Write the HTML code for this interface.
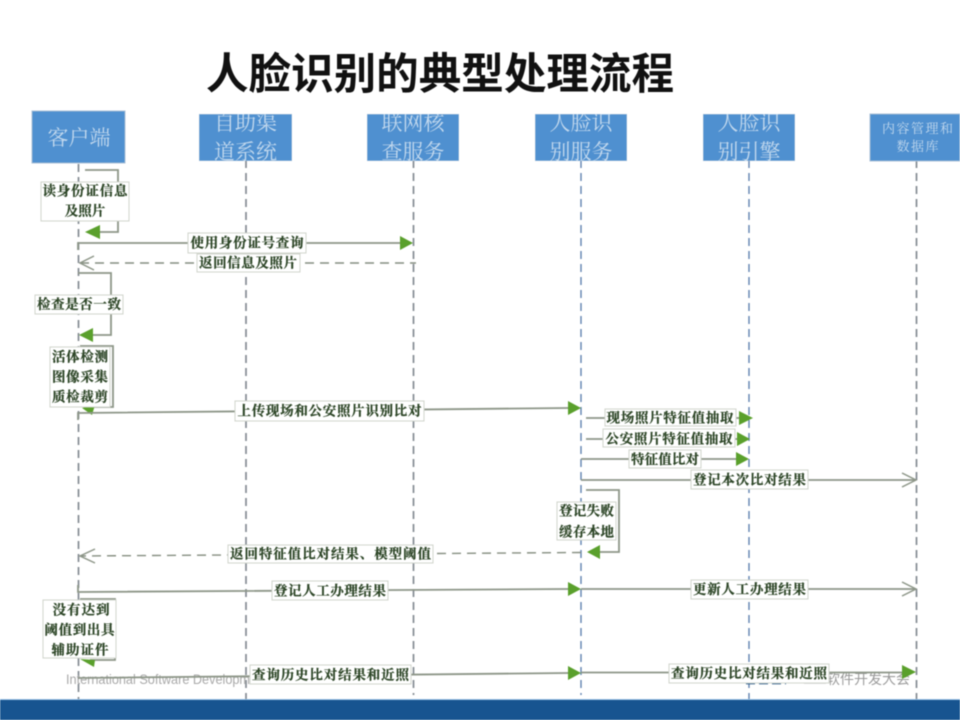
<!DOCTYPE html>
<html lang="zh">
<head>
<meta charset="utf-8">
<title>人脸识别的典型处理流程</title>
<style>
html,body{margin:0;padding:0;background:#fff;width:960px;height:720px;overflow:hidden}
svg{display:block;filter:blur(.6px)}
svg svg{filter:none}
.hd{font-family:"Liberation Serif","Noto Serif CJK SC",serif;fill:#c3d9ee;text-anchor:middle}
.lb{font-family:"Liberation Serif","Noto Serif CJK SC",serif;font-weight:700;font-size:13.5px;fill:#2c4526;stroke:#2c4526;stroke-width:.25;text-anchor:middle;dominant-baseline:central}
.r{fill:#fff;stroke:#d0d4cc;stroke-width:1}
.l{fill:none;stroke:#8d9688;stroke-width:1.8}
.d{fill:none;stroke:#858e80;stroke-width:1.4;stroke-dasharray:9 6}
.o{fill:none;stroke:#8d9688;stroke-width:1.5}
.a{fill:#5aa02c}
.ll{stroke:#848b92;stroke-width:1.7;stroke-dasharray:8 5}
.llb{stroke:#5f82b0;stroke-width:1.4;stroke-dasharray:8 5}
</style>
</head>
<body>
<svg width="960" height="720" viewBox="0 0 960 720" xmlns="http://www.w3.org/2000/svg">
<rect width="960" height="720" fill="#fff"/>

<text x="440" y="89" font-family="'Liberation Sans','Noto Sans CJK SC',sans-serif" font-weight="700" font-size="43" fill="#111" text-anchor="middle" textLength="468" lengthAdjust="spacingAndGlyphs">人脸识别的典型处理流程</text>

<!-- lifelines -->
<line class="ll" x1="78.500" y1="164" x2="78.500" y2="700"/>
<line class="ll" x1="246" y1="160" x2="246" y2="700"/>
<line class="ll" x1="413.500" y1="160" x2="413.500" y2="695"/>
<line class="llb" x1="581" y1="160" x2="581" y2="695"/>
<line class="llb" x1="749" y1="160" x2="749" y2="700"/>
<line class="ll" x1="916.500" y1="160" x2="916.500" y2="700"/>

<!-- header boxes -->
<rect x="32" y="111" width="93" height="52" fill="#4f90d0" stroke="#a8bfd6"/>
<text class="hd" x="79" y="145" font-size="21">客户端</text>
<svg x="199" y="114" width="93" height="47" overflow="hidden">
  <rect width="93" height="47" fill="#4f90d0" stroke="#a8bfd6"/>
  <text class="hd" x="46.500" y="16" font-size="21">自助渠</text>
  <text class="hd" x="46.500" y="45" font-size="21">道系统</text>
</svg>
<svg x="367" y="114" width="92" height="47" overflow="hidden">
  <rect width="92" height="47" fill="#4f90d0" stroke="#a8bfd6"/>
  <text class="hd" x="46" y="16" font-size="21">联网核</text>
  <text class="hd" x="46" y="45" font-size="21">查服务</text>
</svg>
<svg x="535" y="114" width="92" height="47" overflow="hidden">
  <rect width="92" height="47" fill="#4f90d0" stroke="#a8bfd6"/>
  <text class="hd" x="46" y="16" font-size="21">人脸识</text>
  <text class="hd" x="46" y="45" font-size="21">别服务</text>
</svg>
<svg x="703" y="114" width="92" height="47" overflow="hidden">
  <rect width="92" height="47" fill="#4f90d0" stroke="#a8bfd6"/>
  <text class="hd" x="46" y="16" font-size="21">人脸识</text>
  <text class="hd" x="46" y="45" font-size="21">别引擎</text>
</svg>
<rect x="870" y="114" width="90" height="47" fill="#4f90d0" stroke="#a8bfd6"/>
<text class="hd" x="917.500" y="133" font-size="13" textLength="71">内容管理和</text>
<text class="hd" x="917.500" y="151" font-size="13" textLength="42">数据库</text>

<!-- watermark -->
<text x="66" y="684" font-family="'Liberation Sans',sans-serif" font-size="13.5" fill="#a9a9a9" textLength="184" lengthAdjust="spacingAndGlyphs">International Software Developm</text>
<text x="826" y="684" font-family="'Liberation Sans','Noto Sans CJK SC',sans-serif" font-size="14" fill="#9a9a9a" textLength="84">软件开发大会</text>
<line x1="746" y1="683" x2="786" y2="683" stroke="#1c4f80" stroke-width="2.500" stroke-dasharray="9 4"/>
<line x1="804" y1="683" x2="826" y2="683" stroke="#c4c4c4" stroke-width="1.500"/>

<!-- self loop 1 -->
<path class="l" d="M85 170H118V232H92"/>
<path class="a" d="M85 232L100 225V239Z"/>
<rect class="r" x="41" y="182" width="88" height="39"/>
<text class="lb" x="85" y="191" textLength="85">读身份证信息</text>
<text class="lb" x="85" y="211">及照片</text>

<!-- query -->
<path class="l" d="M78 250V243H402"/>
<path class="a" d="M413 243L400 236V250Z"/>
<rect class="r" x="188" y="233" width="118" height="20"/>
<text class="lb" x="247" y="243" textLength="113">使用身份证号查询</text>

<!-- return -->
<path class="d" d="M80 263H416"/>
<path class="o" d="M94 256L80 263L94 270"/>
<rect class="r" x="197" y="254" width="103" height="18"/>
<text class="lb" x="248" y="263" textLength="98">返回信息及照片</text>

<!-- self loop 2 -->
<path class="l" d="M78 273H111V335H90"/>
<path class="a" d="M79 335L93 328V342Z"/>
<rect class="r" x="35" y="295" width="88" height="19"/>
<text class="lb" x="79" y="304.500" textLength="84">检查是否一致</text>

<!-- self loop 3 -->
<path class="l" d="M80 346H113V407H90"/>
<path class="a" d="M82 408L95 405L92 415Z"/>
<rect class="r" x="50" y="347" width="60" height="60"/>
<text class="lb" x="80" y="357" textLength="56">活体检测</text>
<text class="lb" x="80" y="377" textLength="56">图像采集</text>
<text class="lb" x="80" y="397" textLength="56">质检裁剪</text>

<!-- upload -->
<path class="l" d="M78 420V413L568 408"/>
<path class="a" d="M581 408L568 401V415Z"/>
<rect class="r" x="235" y="401" width="189" height="20"/>
<text class="lb" x="329.500" y="411" textLength="184">上传现场和公安照片识别比对</text>

<!-- features -->
<path class="l" d="M586 418H740"/>
<path class="a" d="M753 418L739 411V425Z"/>
<rect class="r" x="605" y="409" width="131" height="17"/>
<text class="lb" x="670" y="418" textLength="127">现场照片特征值抽取</text>

<path class="l" d="M586 439H738"/>
<path class="a" d="M750 439L737 432V446Z"/>
<rect class="r" x="603" y="429" width="132" height="18"/>
<text class="lb" x="669" y="439" textLength="127">公安照片特征值抽取</text>

<path class="l" d="M581 459H738"/>
<path class="a" d="M749 459L736 452V466Z"/>
<rect class="r" x="629" y="450" width="72" height="18"/>
<text class="lb" x="665" y="459.500" textLength="68">特征值比对</text>

<path class="l" d="M581 480H915"/>
<path class="o" d="M902 473L916 480L902 487"/>
<rect class="r" x="691" y="470" width="117" height="19"/>
<text class="lb" x="749.500" y="480" textLength="113">登记本次比对结果</text>

<!-- self loop 4 -->
<path class="l" d="M586 490H619V552H598"/>
<path class="a" d="M587 552L600 545V559Z"/>
<rect class="r" x="557" y="502" width="59" height="38"/>
<text class="lb" x="586.500" y="511" textLength="55">登记失败</text>
<text class="lb" x="586.500" y="532" textLength="55">缓存本地</text>

<!-- return compare -->
<path class="d" d="M581 552.500L80 556"/>
<path class="o" d="M95 549L80 556L95 563"/>
<rect class="r" x="228" y="545" width="205" height="18"/>
<text class="lb" x="330.500" y="554" textLength="201">返回特征值比对结果、模型阈值</text>

<!-- manual -->
<path class="l" d="M78 585V592L568 589"/>
<path class="a" d="M581 589L568 582V596Z"/>
<rect class="r" x="272" y="581" width="116" height="19"/>
<text class="lb" x="330" y="591" textLength="112">登记人工办理结果</text>
<path class="l" d="M581 589H915"/>
<path class="o" d="M902 582L916 589L902 596"/>
<rect class="r" x="691" y="580" width="117" height="19"/>
<text class="lb" x="749.500" y="589.500" textLength="113">更新人工办理结果</text>

<!-- self loop 5 -->
<path class="l" d="M80 599H115V660H90"/>
<path class="a" d="M80 659L95 660L94 667Z"/>
<rect class="r" x="43" y="600" width="73" height="58"/>
<text class="lb" x="81" y="610" textLength="57">没有达到</text>
<text class="lb" x="79.500" y="630" textLength="70">阈值到出具</text>
<text class="lb" x="80" y="650" textLength="57">辅助证件</text>

<!-- history -->
<path class="l" d="M78 678L568 673"/>
<path class="a" d="M581 673L568 666V680Z"/>
<rect class="r" x="250" y="665" width="161" height="19"/>
<text class="lb" x="330.500" y="675" textLength="157">查询历史比对结果和近照</text>
<path class="l" d="M581 672.500H904"/>
<path class="a" d="M916 672L902 665V679Z"/>
<rect class="r" x="669" y="664" width="160" height="19"/>
<text class="lb" x="749" y="673.500" textLength="156">查询历史比对结果和近照</text>

<!-- footer -->
<rect x="0" y="699" width="960" height="1.500" fill="#9cc3e6"/>
<rect x="0" y="700" width="960" height="20" fill="#175490"/>
</svg>
</body>
</html>
